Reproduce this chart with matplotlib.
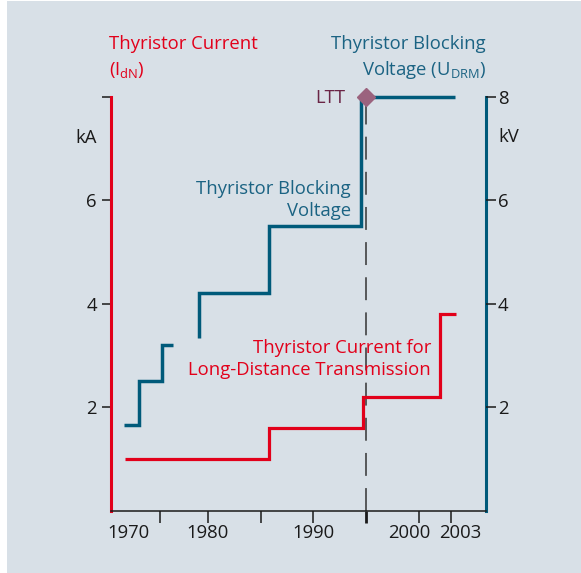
import matplotlib
matplotlib.use("Agg")
import matplotlib.pyplot as plt
from matplotlib.patches import Rectangle

plt.rcParams['font.family'] = ['Open Sans', 'DejaVu Sans']
plt.rcParams['mathtext.default'] = 'regular'

# ---- data ----
voltage_a_years = [1972.1, 1973.5, 1975.7, 1976.7]
voltage_a_kv = [1.65, 2.5, 3.2, 3.2]
voltage_b_years = [1979.2, 1979.2, 1985.8, 1994.5, 2003.4]
voltage_b_kv = [3.33, 4.2, 5.5, 8.0, 8.0]
current_years = [1972.2, 1985.8, 1994.7, 2002.0, 2003.5]
current_ka = [1.0, 1.6, 2.2, 3.8, 3.8]
ltt_year = 1995
ltt_kv = 8.0
x_tick_years = [1975.5, 1980, 1985, 1990, 1995, 2000, 2003]
x_label_years = [1972.5, 1980, 1990, 1999.1, 2003.9]
x_label_text = ["1970", "1980", "1990", "2000", "2003"]
y_ticks = [2, 4, 6, 8]
y_left_labels = ["2", "4", "6", ""]
y_right_labels = ["2", "4", "6", "8"]

RED = "#e2001a"
BLUE = "#005a7a"
BLUE_TXT = "#1b6383"
BG = "#d8e0e7"
FS = 13.3

W, H = 581, 573
fig = plt.figure(figsize=(W / 100, H / 100), dpi=100)
fig.patch.set_facecolor("white")
fig.patches.append(Rectangle((7 / W, 0), 1 - 7 / W, 1 - 1 / H, transform=fig.transFigure,
                             facecolor=BG, edgecolor="none", zorder=-10))

ax = fig.add_axes([110.7 / W, 62.5 / H, (486 - 110.7) / W, (510.5 - 97) / H])
ax.set_facecolor("none")
ax.set_xlim(1970.82, 2006.34)
ax.set_ylim(0, 8)

ax.spines["top"].set_visible(False)
ax.spines["left"].set_color(RED)
ax.spines["left"].set_linewidth(2.2)
ax.spines["right"].set_color(BLUE)
ax.spines["right"].set_linewidth(2.2)
ax.spines["bottom"].set_color("#1a1a1a")
ax.spines["bottom"].set_linewidth(1.1)

lw = 2.5
kw = dict(drawstyle="steps-post", solid_joinstyle="miter", solid_capstyle="butt", clip_on=False)
ax.plot(voltage_a_years, voltage_a_kv, color=BLUE, lw=lw, **kw)
ax.plot(voltage_b_years, voltage_b_kv, color=BLUE, lw=lw, **kw)
ax.plot(current_years, current_ka, color=RED, lw=2.3, **kw)

ax.axvline(ltt_year, color="#333333", lw=1.1, dashes=(15, 8), dash_capstyle="butt", zorder=1)
ax.plot([ltt_year], [ltt_kv], marker="D", markersize=9, color="#9b637e", clip_on=False, zorder=5)

# x ticks
ax.xaxis.remove_overlapping_locs = False
ax.set_xticks(x_tick_years)
ax.set_xticklabels([])
ax.tick_params(axis="x", which="major", direction="out", length=8.5, width=1.1, color="#1a1a1a")
ax.set_xticks(x_label_years, minor=True)
ax.set_xticklabels(x_label_text, minor=True, fontsize=FS, color="#1a1a1a")
ax.tick_params(axis="x", which="minor", length=0, pad=10)
for t in ax.xaxis.get_major_ticks():
    if abs(t.get_loc() - ltt_year) < 0.01:
        t.tick1line.set_markeredgewidth(2.0)

# left y
ax.set_yticks(y_ticks)
ax.set_yticklabels(y_left_labels, fontsize=FS, color="#1a1a1a")
ax.tick_params(axis="y", direction="out", length=6.5, width=1.1, color="#1a1a1a", pad=3.5)

# right y
ax2 = ax.twinx()
ax2.set_ylim(0, 8)
for s in ["top", "left", "bottom", "right"]:
    ax2.spines[s].set_visible(False)
ax2.set_yticks(y_ticks)
ax2.set_yticklabels(y_right_labels, fontsize=FS, color="#1a1a1a")
ax2.tick_params(axis="y", direction="out", length=7, width=1.1, color="#1a1a1a", pad=1.5)

def ft(x, y, s, **k):
    fig.text(x / W, 1 - y / H, s, **k)

ft(86, 138, "kA", ha="center", va="center", fontsize=FS, color="#1a1a1a")
ft(509, 137, "kV", ha="center", va="center", fontsize=FS, color="#1a1a1a")
ft(109, 44, "Thyristor Current", ha="left", va="center", fontsize=FS, color=RED)
ft(109, 70, "(I$_{dN}$)", ha="left", va="center", fontsize=FS, color=RED)
ft(486, 44, "Thyristor Blocking", ha="right", va="center", fontsize=FS, color=BLUE_TXT)
ft(486, 70, "Voltage (U$_{DRM}$)", ha="right", va="center", fontsize=FS, color=BLUE_TXT)
ft(345, 98, "LTT", ha="right", va="center", fontsize=FS, color="#6a2546")
ft(351, 200, "Thyristor Blocking\nVoltage", ha="right", va="center", fontsize=FS,
   color=BLUE_TXT, linespacing=1.3)
ft(431, 358.7, "Thyristor Current for\nLong-Distance Transmission", ha="right", va="center",
   fontsize=FS, color=RED, linespacing=1.3)

fig.savefig("out.png", dpi=100, facecolor=fig.get_facecolor())
